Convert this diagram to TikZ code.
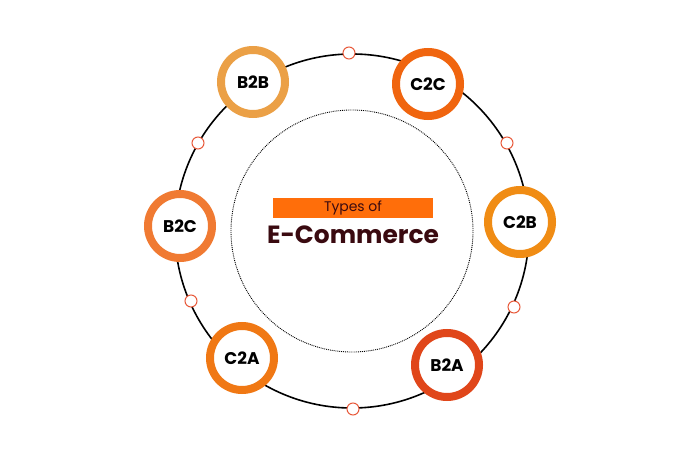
\documentclass[tikz,border=0pt]{standalone}
\usepackage{fontspec}
\setmainfont{Poppins}
\usetikzlibrary{positioning}
\definecolor{ringA}{HTML}{EBA046}
\definecolor{ringB}{HTML}{F0650F}
\definecolor{ringC}{HTML}{F08C14}
\definecolor{ringD}{HTML}{E0461A}
\definecolor{ringE}{HTML}{F07814}
\definecolor{ringF}{HTML}{F07A32}
\definecolor{dotring}{HTML}{E8593A}
\definecolor{barfill}{HTML}{FF6E0A}
\definecolor{titlebrown}{HTML}{3A0A10}
\tikzstyle{model}=[circle, fill=white, line width=8bp, minimum size=64bp,
    inner sep=0pt, font=\bfseries\fontsize{17}{17}\selectfont]
\tikzstyle{joint}=[circle, fill=white, draw=dotring, line width=1bp,
    minimum size=12bp, inner sep=0pt]

\begin{document}
\begin{tikzpicture}[x=1bp, y=-1bp]
        \useasboundingbox (0,0) rectangle (700,450);
        \coordinate (centre) at (352,231);
        \draw[line width=1.6bp] (centre) circle[radius=177bp];
        \draw[densely dotted, line width=0.9bp] (centre) circle[radius=121bp];

        \node[joint] (j1) at (349,53) {};
        \node[joint] (j2) at (507,143) {};
        \node[joint] (j3) at (514,307) {};
        \node[joint] (j4) at (353,409) {};
        \node[joint] (j5) at (191,301) {};
        \node[joint] (j6) at (198,143) {};

        \node[model, draw=ringA] (b2b) at (253,82) {B2B};
        \node[model, draw=ringB] (c2c) at (428,84) {C2C};
        \node[model, draw=ringC] (c2b) at (520,222) {C2B};
        \node[model, draw=ringD] (b2a) at (447,365) {B2A};
        \node[model, draw=ringE] (c2a) at (242,358) {C2A};
        \node[model, draw=ringF] (b2c) at (180,226) {B2C};

        \node[fill=barfill, minimum width=160bp, minimum height=20bp, inner sep=0pt,
            text=titlebrown, font=\fontsize{14}{14}\selectfont] (types) at (353,208) {Types of};
        \node[below=4bp of types, text=titlebrown,
            font=\bfseries\fontsize{25}{25}\selectfont] (ecom) {E-Commerce};
    \end{tikzpicture}
\end{document}
